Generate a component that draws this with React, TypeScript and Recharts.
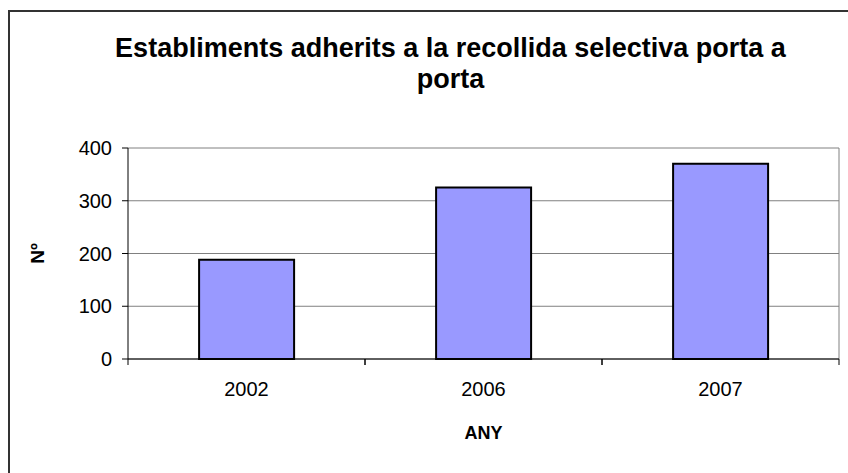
import React from 'react';
import { BarChart, Bar, XAxis, YAxis, CartesianGrid } from 'recharts';

const years = ['2002', '2006', '2007'];
const establiments = [188, 325, 370];
const yTicks = [0, 100, 200, 300, 400];

const data = years.map((year, i) => ({ year, value: establiments[i] }));

const FONT = '"Liberation Sans", Arial, sans-serif';
const W = 848;
const H = 473;
const margin = { top: 148, right: 9, left: 0, bottom: 0 };
const Y_AXIS_W = 128;
const X_AXIS_H = 114;
const plotW = W - margin.right - Y_AXIS_W;
const halfBand = plotW / years.length / 2;

function XTick({ x, y, payload }: any) {
  return (
    <g>
      <line x1={x - halfBand} y1={y} x2={x - halfBand} y2={y + 6} stroke="#000" />
      <line x1={x + halfBand} y1={y} x2={x + halfBand} y2={y + 6} stroke="#000" />
      <text x={x} y={y + 37} textAnchor="middle" fontSize={20} fontFamily={FONT} fill="#000">
        {payload.value}
      </text>
    </g>
  );
}

function YTitle({ viewBox }: any) {
  const cx = viewBox.x + 37;
  const cy = viewBox.y + viewBox.height / 2;
  return (
    <text x={cx} y={cy} transform={`rotate(-90 ${cx} ${cy})`} textAnchor="middle" dominantBaseline="central"
      fontSize={19} fontWeight="bold" fontFamily={FONT} fill="#000">
      Nº
    </text>
  );
}

function XTitle({ viewBox }: any) {
  const cx = viewBox.x + viewBox.width / 2;
  return (
    <text x={cx} y={viewBox.y + 80} textAnchor="middle" fontSize={18} fontWeight="bold" fontFamily={FONT} fill="#000">
      ANY
    </text>
  );
}

export default function App() {
  return (
    <div style={{ position: 'absolute', left: 0, top: 0, width: W, height: H, background: '#fff', overflow: 'hidden' }}>
      <div style={{ position: 'absolute', left: 8, top: 10, width: W, height: H, borderLeft: '2px solid #333', borderTop: '2px solid #333' }} />
      <div style={{ position: 'absolute', left: 80, top: 33, width: 741, textAlign: 'center', fontFamily: FONT, fontWeight: 'bold', fontSize: 27, lineHeight: '31px', color: '#000' }}>
        Establiments adherits a la recollida selectiva porta a porta
      </div>
      <div style={{ position: 'absolute', left: 0, top: 0 }}>
        <BarChart width={W} height={H} data={data} margin={margin} barCategoryGap="30%">
          <CartesianGrid
            stroke="#808080"
            verticalCoordinatesGenerator={({ offset }: any) => [offset.left + offset.width]}
          />
          <XAxis
            dataKey="year"
            height={X_AXIS_H}
            tickLine={false}
            tickSize={0}
            tickMargin={0}
            axisLine={{ stroke: '#000' }}
            tick={<XTick />}
            label={<XTitle />}
          />
          <YAxis
            width={Y_AXIS_W}
            domain={[0, 400]}
            ticks={yTicks}
            tickSize={6}
            tickMargin={10}
            axisLine={{ stroke: '#000' }}
            tickLine={{ stroke: '#000' }}
            tick={{ fontSize: 20, fontFamily: FONT, fill: '#000' }}
            label={<YTitle />}
          />
          <Bar dataKey="value" fill="#9999ff" stroke="#000" strokeWidth={2} isAnimationActive={false} />
        </BarChart>
      </div>
    </div>
  );
}
